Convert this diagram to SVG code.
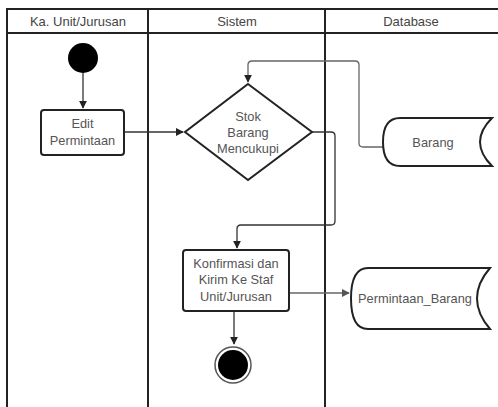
<svg xmlns="http://www.w3.org/2000/svg" width="498" height="407" viewBox="0 0 498 407">
<style>
.lane{fill:none;stroke:#222;stroke-width:2}
.t{font-family:"Liberation Sans",Arial,sans-serif;font-size:12.8px;fill:#555;text-anchor:middle}
.h{font-family:"Liberation Sans",Arial,sans-serif;font-size:13px;fill:#444;text-anchor:middle}
.node{fill:#fff;stroke:#222;stroke-width:2}
.c{fill:none;stroke:#333;stroke-width:1.3}
.cg{fill:none;stroke:#666;stroke-width:1.3}
</style>
<defs>
<marker id="a" viewBox="0 0 10 10" refX="9" refY="5" markerWidth="8" markerHeight="8" markerUnits="userSpaceOnUse" orient="auto"><path d="M0,0 L10,5 L0,10 z" fill="#222"/></marker>
<marker id="ag" viewBox="0 0 10 10" refX="9" refY="5" markerWidth="8" markerHeight="8" markerUnits="userSpaceOnUse" orient="auto"><path d="M0,0 L10,5 L0,10 z" fill="#555"/></marker>
</defs>
<rect width="498" height="407" fill="#fff"/>
<g id="lanes">
<path class="lane" d="M498,9 H7 V407 M7,33 H498 M148,9 V407 M325,9 V407"/>
<text class="h" x="78" y="25.5">Ka. Unit/Jurusan</text>
<text class="h" x="237" y="25.5">Sistem</text>
<text class="h" x="411" y="25.5">Database</text>
</g>
<g id="connectors">
<path class="c" d="M83,73 V108" marker-end="url(#a)"/>
<path class="c" d="M124,132 H183" marker-end="url(#a)"/>
<path class="cg" d="M383,147 H363 Q359,147 359,143 V65 Q359,61 355,61 H252 Q248,61 248,65 V82" marker-end="url(#a)"/>
<path class="c" d="M312,132 H331 Q335,132 335,136 V221 Q335,225 331,225 H241 Q237,225 237,229 V248" marker-end="url(#a)"/>
<path class="cg" d="M289,293 H349" marker-end="url(#ag)"/>
<path class="c" d="M234,311 V344" marker-end="url(#a)"/>
</g>
<g id="start"><circle cx="83" cy="58" r="15" fill="#000"/></g>
<g id="edit">
<rect class="node" x="41" y="110" width="83" height="45" rx="3"/>
<text class="t" x="82.5" y="128">Edit</text>
<text class="t" x="82.5" y="145">Permintaan</text>
</g>
<g id="decision">
<path class="node" d="M248,84 L312,132 L248,180 L185,132 Z"/>
<text class="t" x="248" y="121">Stok</text>
<text class="t" x="248" y="137">Barang</text>
<text class="t" x="248" y="153">Mencukupi</text>
</g>
<g id="barang">
<path class="node" d="M400,118 H492 Q480,130 480,142 Q480,154 492,166 H400 Q383,166 383,142 Q383,118 400,118 Z"/>
<text class="t" x="433" y="146.5">Barang</text>
</g>
<g id="konfirmasi">
<rect class="node" x="183" y="250" width="106" height="61" rx="3"/>
<text class="t" x="236" y="267.5">Konfirmasi dan</text>
<text class="t" x="236" y="284">Kirim Ke Staf</text>
<text class="t" x="236" y="300.5">Unit/Jurusan</text>
</g>
<g id="permintaan">
<path class="node" d="M368,268 H490 Q477,283 477,298.5 Q477,314 490,329 H368 Q351,329 351,298.5 Q351,268 368,268 Z"/>
<text class="t" x="415" y="303">Permintaan_Barang</text>
</g>
<g id="end">
<circle cx="233" cy="365" r="18" fill="#fff" stroke="#555" stroke-width="1.5"/>
<circle cx="233" cy="365" r="15" fill="#000"/>
</g>
</svg>
